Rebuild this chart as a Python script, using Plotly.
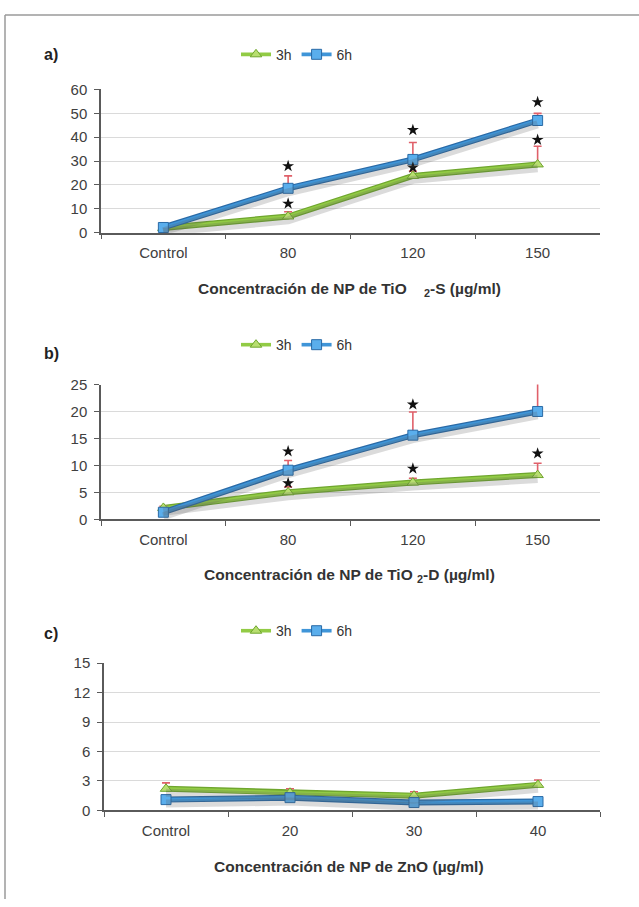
import plotly.graph_objects as go

# ---------------- data ----------------
cats_a = ["Control", "80", "120", "150"]
a_3h = [2.0, 6.8, 23.8, 28.6]
a_3h_err = [0.5, 2.0, 2.0, 7.6]
a_6h = [2.2, 18.6, 30.7, 47.0]
a_6h_err = [0.8, 5.2, 7.1, 3.0]
a_3h_star = [None, 12.2, 27.3, 38.9]
a_6h_star = [None, 27.9, 43.0, 54.7]

cats_b = ["Control", "80", "120", "150"]
b_3h = [2.1, 5.0, 6.8, 8.2]
b_3h_err = [0.3, 1.0, 0.8, 2.2]
b_6h = [1.3, 9.1, 15.6, 20.0]
b_6h_err = [0.5, 1.8, 4.3, 5.3]
b_3h_star = [None, 6.7, 9.4, 12.2]
b_6h_star = [None, 12.6, 21.3, 27.6]

cats_c = ["Control", "20", "30", "40"]
c_3h = [2.2, 1.8, 1.5, 2.6]
c_3h_err = [0.6, 0.4, 0.4, 0.5]
c_6h = [1.1, 1.3, 0.8, 0.9]
c_6h_err = [0.3, 0.3, 0.3, 0.3]

series_names = ["3h", "6h"]
y_ranges = [[0, 60], [0, 25], [0, 15]]
y_dticks = [10, 5, 3]
x_titles = [
    "Concentración de NP de TiO\u00a0\u00a0\u00a0\u00a0<sub>2</sub>-S (µg/ml)",
    "Concentración de NP de TiO\u00a0<sub>2</sub>-D (µg/ml)",
    "Concentración de NP de ZnO (µg/ml)",
]
panel_labels = ["a)", "b)", "c)"]

# ---------------- style ----------------
W, H = 639, 907
FONT = "Liberation Sans, Arial, sans-serif"
GREEN = "#92CB45"
GREEN_D = "#6FA62E"
GREEN_M = "#B8DE70"
BLUE = "#3F95D8"
BLUE_D = "#2A6AA6"
BLUE_M = "#5AAEEC"
ERR = "#E0606A"
AXIS = "#5a5a5a"
GRID = "#dadada"
SHADOW = "rgba(90,90,90,0.22)"


def px_x(p):
    return p / W


def px_y(p):
    return 1 - p / H


# pixel geometry of panels: (x_left, x_right, y_bottom(0), y_top)
panels = [
    (101, 600, 228, 82),
    (101, 600, 520, 382.7),
    (104, 600, 816.7, 666.7),
]
legend_y = [46.6, 342.5, 634.0]
label_y = [46.0, 351.0, 636.0]
title_y = [285.5, 577.0, 874.0]
SHADOW_PX = 4  # vertical offset of the drop shadow, in pixels

fig = go.Figure()

data = [
    (cats_a, a_3h, a_3h_err, a_6h, a_6h_err, a_3h_star, a_6h_star),
    (cats_b, b_3h, b_3h_err, b_6h, b_6h_err, b_3h_star, b_6h_star),
    (cats_c, c_3h, c_3h_err, c_6h, c_6h_err, None, None),
]

legend_ids = ["legend", "legend2", "legend3"]

for i, (cats, y3, e3, y6, e6, s3, s6) in enumerate(data):
    xa = "x" if i == 0 else f"x{i+1}"
    ya = "y" if i == 0 else f"y{i+1}"
    ys = f"y{i+4}"  # shadow overlay axis
    lg = legend_ids[i]
    zeros = [0] * len(cats)
    # drop shadows (same data on an offset overlay axis)
    for yy in (y3, y6):
        fig.add_trace(go.Scatter(
            x=cats, y=yy, mode="lines", xaxis=xa, yaxis=ys,
            showlegend=False, hoverinfo="skip", cliponaxis=False,
            line=dict(color=SHADOW, width=8),
        ))
    for yy, ee, name, col, dcol, mcol, sym in (
        (y3, e3, series_names[0], GREEN, GREEN_D, GREEN_M, "triangle-up"),
        (y6, e6, series_names[1], BLUE, BLUE_D, BLUE_M, "square"),
    ):
        # darker edge under the line
        fig.add_trace(go.Scatter(
            x=cats, y=yy, mode="lines", xaxis=xa, yaxis=ya,
            showlegend=False, hoverinfo="skip", cliponaxis=False,
            line=dict(color=dcol, width=6),
        ))
        fig.add_trace(go.Scatter(
            x=cats, y=yy, name=name, mode="lines+markers",
            xaxis=xa, yaxis=ya, legend=lg, cliponaxis=False,
            line=dict(color=col, width=3.6),
            marker=dict(symbol=sym, size=10, color=mcol,
                        line=dict(color=dcol, width=1)),
            error_y=dict(type="data", symmetric=False, array=ee, arrayminus=zeros,
                         color=ERR, thickness=1.6, width=4),
        ))
    for st in (s3, s6):
        if st is None:
            continue
        fig.add_trace(go.Scatter(
            x=cats, y=st, mode="markers", xaxis=xa, yaxis=ya,
            showlegend=False, hoverinfo="skip", cliponaxis=False,
            marker=dict(symbol="star", size=9, color="#111111"),
        ))

layout = dict(
    width=W, height=H,
    margin=dict(l=0, r=0, t=0, b=0),
    paper_bgcolor="white", plot_bgcolor="rgba(0,0,0,0)",
    font=dict(family=FONT, size=15, color="#404040"),
    annotations=[], shapes=[],
)

for i, (xl, xr, yb, yt) in enumerate(panels):
    xk = "xaxis" if i == 0 else f"xaxis{i+1}"
    yk = "yaxis" if i == 0 else f"yaxis{i+1}"
    ya = "y" if i == 0 else f"y{i+1}"
    xa = "x" if i == 0 else f"x{i+1}"
    layout[xk] = dict(
        domain=[px_x(xl), px_x(xr)], anchor=ya, type="category",
        categoryorder="array", categoryarray=data[i][0],
        range=[-0.5, 3.5], tickson="boundaries", ticks="outside", ticklen=5,
        tickcolor=AXIS, showline=True, linecolor=AXIS, linewidth=1.5,
        showgrid=False, zeroline=False, ticklabelstandoff=6,
        tickfont=dict(size=15, color="#404040"),
    )
    layout[yk] = dict(
        domain=[px_y(yb), px_y(yt)], anchor=xa, range=y_ranges[i],
        dtick=y_dticks[i], tick0=0, ticks="outside", ticklen=5, tickcolor=AXIS,
        showline=True, linecolor=AXIS, linewidth=1.5, showgrid=True,
        gridcolor=GRID, gridwidth=1.2, zeroline=False, ticklabelstandoff=4,
        tickfont=dict(size=15, color="#404040"),
    )
    # overlay axis for shadows: same scale, shifted a few pixels down
    span = y_ranges[i][1] - y_ranges[i][0]
    d = SHADOW_PX * span / (yb - yt)
    layout[f"yaxis{i+4}"] = dict(
        overlaying=ya, anchor=xa, visible=False,
        range=[y_ranges[i][0] + d, y_ranges[i][1] + d],
    )
    layout[legend_ids[i]] = dict(
        orientation="h", x=px_x(236), y=px_y(legend_y[i]),
        xanchor="left", yanchor="middle", bgcolor="rgba(0,0,0,0)",
        font=dict(size=14, color="#333333", family=FONT),
        itemwidth=30, tracegroupgap=0,
    )
    layout["annotations"].append(dict(
        text=f"<b>{panel_labels[i]}</b>", xref="paper", yref="paper",
        x=px_x(42), y=px_y(label_y[i]), xanchor="left", yanchor="middle",
        showarrow=False, font=dict(size=16, color="#222222", family=FONT),
    ))
    layout["annotations"].append(dict(
        text=f"<b>{x_titles[i]}</b>", xref="paper", yref="paper",
        x=px_x(349), y=px_y(title_y[i]), xanchor="center", yanchor="middle",
        showarrow=False, font=dict(size=15.5, color="#333333", family=FONT),
    ))

# outer frame (top and left edges)
layout["shapes"].append(dict(type="line", xref="paper", yref="paper",
                             x0=px_x(5), x1=1.0, y0=px_y(6), y1=px_y(6),
                             line=dict(color="#9a9a9a", width=1.5)))
layout["shapes"].append(dict(type="line", xref="paper", yref="paper",
                             x0=px_x(5), x1=px_x(5), y0=px_y(6), y1=0,
                             line=dict(color="#9a9a9a", width=1.5)))

fig.update_layout(**layout)
fig.update_layout(showlegend=True)

fig.write_html("out.html", config={"displayModeBar": False},
               post_script="document.body.style.margin='0';")
